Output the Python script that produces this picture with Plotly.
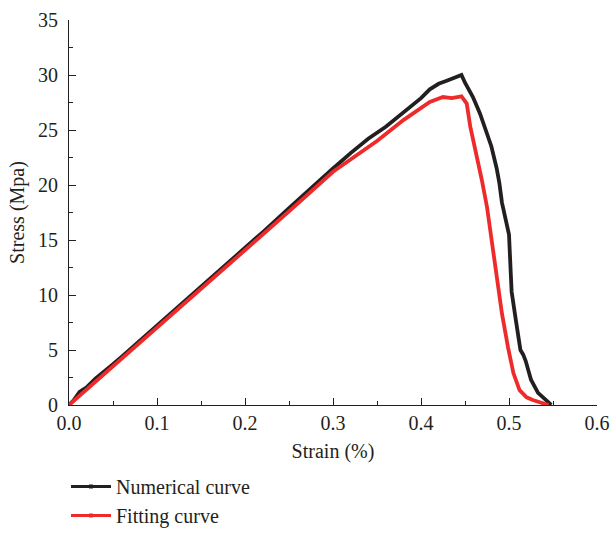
import plotly.graph_objects as go

num_strain = [0.0, 0.005, 0.012, 0.02, 0.03, 0.04, 0.05, 0.06, 0.08, 0.10, 0.12, 0.15, 0.18, 0.20,
              0.22, 0.25, 0.28, 0.30, 0.32, 0.34, 0.36, 0.38, 0.40, 0.41, 0.42, 0.43, 0.44, 0.446,
              0.45, 0.453, 0.459, 0.467, 0.473, 0.480, 0.486, 0.489, 0.492, 0.495, 0.500, 0.502,
              0.503, 0.508, 0.513, 0.516, 0.519, 0.525, 0.533, 0.544, 0.548]
num_stress = [0.0, 0.4, 1.2, 1.6, 2.4, 3.0, 3.7, 4.4, 5.8, 7.2, 8.6, 10.8, 12.9, 14.3,
              15.7, 17.9, 20.1, 21.5, 22.9, 24.2, 25.3, 26.6, 27.9, 28.7, 29.2, 29.5, 29.8, 30.0,
              29.3, 28.9, 28.0, 26.5, 25.0, 23.5, 21.5, 20.2, 18.4, 17.3, 15.5, 12.0,
              10.3, 7.6, 5.0, 4.6, 4.0, 2.3, 1.1, 0.3, 0.0]

fit_strain = [0.0, 0.01, 0.05, 0.10, 0.15, 0.20, 0.25, 0.30, 0.35, 0.38, 0.40, 0.41, 0.425,
              0.435, 0.446, 0.452, 0.456, 0.463, 0.469, 0.475, 0.482, 0.492, 0.499, 0.505,
              0.512, 0.520, 0.527, 0.545]
fit_stress = [0.0, 0.7, 3.6, 7.1, 10.6, 14.1, 17.6, 21.2, 24.0, 25.9, 27.0, 27.55, 28.0,
              27.9, 28.06, 27.4, 25.3, 22.9, 20.5, 18.0, 14.2, 8.3, 5.2, 2.9,
              1.35, 0.7, 0.45, 0.0]

BLACK = "#231f20"
RED = "#ee2a2a"
FONT = "Liberation Serif"

fig = go.Figure()
fig.add_trace(go.Scatter(x=num_strain, y=num_stress, mode="lines",
                         line=dict(color=BLACK, width=3.8), showlegend=False))
fig.add_trace(go.Scatter(x=fit_strain, y=fit_stress, mode="lines",
                         line=dict(color=RED, width=3.8), showlegend=False))
# legend entries
fig.add_trace(go.Scatter(x=[None], y=[None], mode="lines+markers", name="Numerical curve",
                         line=dict(color=BLACK, width=3), marker=dict(symbol="square", size=4, color=BLACK)))
fig.add_trace(go.Scatter(x=[None], y=[None], mode="lines+markers", name="Fitting curve",
                         line=dict(color=RED, width=3), marker=dict(symbol="square", size=4, color=RED)))

axis_common = dict(showgrid=False, zeroline=False, showline=True, linecolor=BLACK, linewidth=1,
                   ticks="inside", tickcolor=BLACK, tickwidth=1, ticklen=7, automargin=False,
                   tickfont=dict(family=FONT, size=20, color=BLACK))

fig.update_xaxes(range=[0, 0.6], dtick=0.1, tickformat=".1f", ticklabelstandoff=0,
                 title=dict(text="Strain (%)", font=dict(family=FONT, size=20, color=BLACK), standoff=10),
                 minor=dict(dtick=0.05, ticks="inside", ticklen=4, tickcolor=BLACK),
                 **axis_common)
fig.update_yaxes(range=[0, 35], dtick=5, ticklabelstandoff=6,
                 title=dict(text="Stress (Mpa)", font=dict(family=FONT, size=20, color=BLACK), standoff=8),
                 minor=dict(dtick=2.5, ticks="inside", ticklen=4, tickcolor=BLACK),
                 **axis_common)

fig.update_layout(
    width=612, height=546,
    margin=dict(l=69, r=15, t=20, b=140),
    paper_bgcolor="white", plot_bgcolor="white",
    font=dict(family=FONT, color=BLACK),
    legend=dict(x=-3/528, y=-0.158, xanchor="left", yanchor="top", orientation="v",
                font=dict(family=FONT, size=20, color=BLACK), bgcolor="rgba(0,0,0,0)",
                itemwidth=40, tracegroupgap=0),
)

fig.write_html("out.html", config={"displayModeBar": False},
               post_script=("document.documentElement.style.overflow='hidden';"
                            "document.body.style.margin='0';document.body.style.overflow='hidden';"
                            "document.querySelectorAll('.svg-container').forEach(function(e){e.style.overflow='hidden';});"))
